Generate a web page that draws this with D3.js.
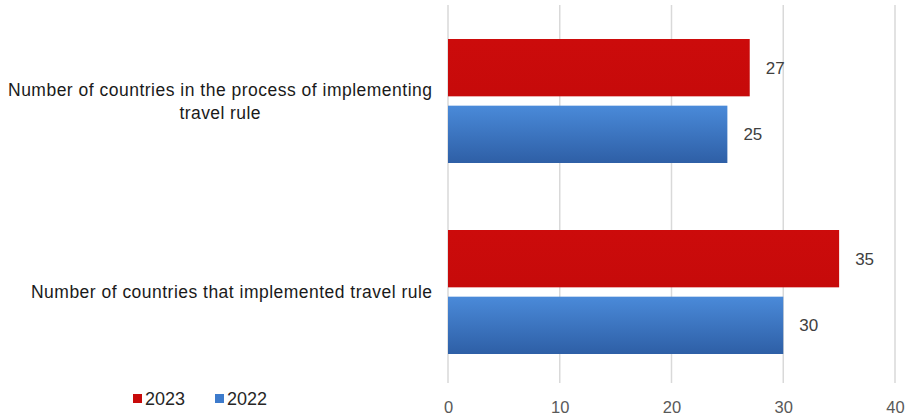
<!DOCTYPE html>
<html><head><meta charset="utf-8">
<script src="https://cdn.jsdelivr.net/npm/d3@7"></script>
<style>body{margin:0;background:#fff;} svg{display:block;font-family:"Liberation Sans",Arial,sans-serif;}</style>
</head><body>
<svg id="c" width="906" height="415"></svg>
<script>
const categories = ["Number of countries in the process of implementing travel rule", "Number of countries that implemented travel rule"];
const categoryLines = [["Number of countries in the process of implementing", "travel rule"], ["Number of countries that implemented travel rule"]];
const seriesNames = ["2023", "2022"];
const values2023 = [27, 35];
const values2022 = [25, 30];
const xTicks = [0, 10, 20, 30, 40];

const svg = d3.select("#c");
const defs = svg.append("defs");
const gb = defs.append("linearGradient").attr("id","gBlue").attr("x1",0).attr("y1",0).attr("x2",0).attr("y2",1);
gb.append("stop").attr("offset","0%").attr("stop-color","#4a8ad9");
gb.append("stop").attr("offset","100%").attr("stop-color","#2e5fa6");
const gr = defs.append("linearGradient").attr("id","gRed").attr("x1",0).attr("y1",0).attr("x2",0).attr("y2",1);
gr.append("stop").attr("offset","0%").attr("stop-color","#cc0b0b");
gr.append("stop").attr("offset","100%").attr("stop-color","#c60a0a");

const x = d3.scaleLinear().domain([0, 40]).range([448, 895]);
const y = d3.scaleBand().domain(categories).range([5.5, 387.5]).paddingInner(0).paddingOuter(0);
const sub = d3.scaleBand().domain(seriesNames).range([0, 124]).paddingInner(0.14);
const fills = {"2023":"url(#gRed)", "2022":"url(#gBlue)"};
const legendFill = {"2023":"#c80a0a", "2022":"#3d7bcc"};

// gridlines
svg.append("g").selectAll("line").data(xTicks).join("line")
  .attr("x1", d=>x(d)).attr("x2", d=>x(d)).attr("y1", 5).attr("y2", 383)
  .attr("stroke", "#d9d9d9").attr("stroke-width", 1.5);

// x tick labels
const xAxis = d3.axisBottom(x).tickValues(xTicks).tickSize(0).tickPadding(0);
const ax = svg.append("g").attr("transform","translate(0,401)").call(xAxis);
ax.select(".domain").remove();
ax.selectAll("text").attr("font-size", 16.5).attr("fill", "#595959").attr("font-family","Liberation Sans, Arial, sans-serif");

const data = [];
categories.forEach((c,i)=>{
  data.push({cat:c, s:"2023", v:values2023[i]});
  data.push({cat:c, s:"2022", v:values2022[i]});
});
const offset = (y.bandwidth() - 124)/2;
svg.append("g").selectAll("rect").data(data).join("rect")
  .attr("x", x(0)).attr("y", d=>y(d.cat)+offset+sub(d.s))
  .attr("width", d=>x(d.v)-x(0)).attr("height", sub.bandwidth())
  .attr("fill", d=>fills[d.s]);

svg.append("g").selectAll("text").data(data).join("text")
  .attr("x", d=>x(d.v)+16).attr("y", d=>y(d.cat)+offset+sub(d.s)+sub.bandwidth()/2)
  .attr("dy","0.35em").attr("font-size",17).attr("fill","#404040")
  .text(d=>d.v);

// category labels
const lineWidths = [[424, 81], [401]];
const cl = svg.append("g").selectAll("text").data(categories).join("text")
  .attr("text-anchor","middle").attr("font-size",17.5).attr("fill","#1a1a1a");
cl.each(function(d,i){
  const lines = categoryLines[i];
  const cx = i===0 ? 220 : 231.5;
  const cy = y(d)+y.bandwidth()/2;
  const t = d3.select(this);
  lines.forEach((ln,j)=>{
    t.append("tspan").attr("x", cx)
     .attr("y", cy + (j-(lines.length-1)/2)*23 + 6)
     .attr("textLength", lineWidths[i][j]).attr("lengthAdjust","spacing")
     .text(ln);
  });
});

// legend
const lg = svg.append("g");
const lx = {"2023":133, "2022":215};
seriesNames.forEach(s=>{
  lg.append("rect").attr("x", lx[s]).attr("y", 394).attr("width",9).attr("height",9).attr("fill",legendFill[s]);
  lg.append("text").attr("x", lx[s]+12).attr("y", 405).attr("font-size",18).attr("fill","#262626").text(s);
});
</script>
</body></html>
